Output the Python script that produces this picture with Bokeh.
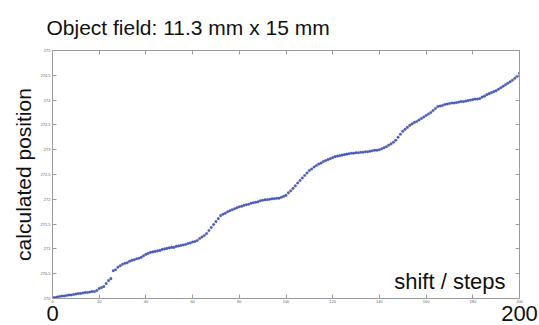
from bokeh.plotting import figure
from bokeh.models import (Range1d, LinearAxis, FixedTicker, Label, ColumnDataSource, Title,
                          CustomJSTickFormatter)
from bokeh.embed import file_html
from bokeh.resources import INLINE

# ---- data ----
steps = list(range(0, 201))
positions = [
    270.02, 270.02, 270.03, 270.04, 270.05, 270.05, 270.06, 270.07, 270.07, 270.08,
    270.09, 270.10, 270.10, 270.11, 270.12, 270.12, 270.13, 270.14, 270.14, 270.16,
    270.20, 270.22, 270.24, 270.30, 270.36, 270.40, 270.56, 270.58, 270.63, 270.66,
    270.69, 270.71, 270.72, 270.75, 270.77, 270.78, 270.80, 270.81, 270.83, 270.86,
    270.89, 270.91, 270.93, 270.94, 270.95, 270.96, 270.97, 270.99, 271.00, 271.01,
    271.02, 271.03, 271.03, 271.05, 271.06, 271.07, 271.08, 271.09, 271.11, 271.12,
    271.14, 271.15, 271.17, 271.21, 271.24, 271.27, 271.31, 271.37, 271.43, 271.49,
    271.55, 271.61, 271.67, 271.70, 271.72, 271.75, 271.77, 271.79, 271.81, 271.83,
    271.85, 271.86, 271.88, 271.89, 271.90, 271.92, 271.93, 271.94, 271.95, 271.97,
    271.98, 271.99, 271.99, 272.00, 272.01, 272.01, 272.02, 272.02, 272.04, 272.06,
    272.08, 272.13, 272.17, 272.22, 272.27, 272.33, 272.38, 272.43, 272.48, 272.53,
    272.58, 272.61, 272.65, 272.68, 272.71, 272.73, 272.76, 272.78, 272.80, 272.82,
    272.84, 272.86, 272.87, 272.88, 272.89, 272.90, 272.91, 272.92, 272.93, 272.93,
    272.94, 272.94, 272.95, 272.95, 272.96, 272.96, 272.97, 272.98, 272.99, 272.99,
    273.00, 273.02, 273.04, 273.06, 273.09, 273.12, 273.15, 273.19, 273.25, 273.31,
    273.37, 273.41, 273.45, 273.49, 273.52, 273.55, 273.57, 273.60, 273.63, 273.66,
    273.69, 273.72, 273.75, 273.79, 273.83, 273.87, 273.88, 273.89, 273.91, 273.92,
    273.93, 273.94, 273.94, 273.95, 273.96, 273.97, 273.97, 273.98, 273.99, 274.00,
    274.01, 274.02, 274.02, 274.03, 274.06, 274.08, 274.11, 274.13, 274.15, 274.17,
    274.19, 274.22, 274.25, 274.28, 274.31, 274.34, 274.37, 274.40, 274.44, 274.48,
    274.54,
]
x_ticks = [0, 20, 40, 60, 80, 100, 120, 140, 160, 180, 200]
y_ticks = [270, 270.5, 271, 271.5, 272, 272.5, 273, 273.5, 274, 274.5, 275]
x_big_ticks = [0, 200]

FONT = "Liberation Sans"
AX = "#9a9a9a"
INK = "#111111"

p = figure(width=539, height=325, output_backend="svg", toolbar_location=None,
           x_range=Range1d(0, 200), y_range=Range1d(270, 275),
           x_axis_location=None, y_axis_location=None,
           min_border_left=52, min_border_right=20, min_border_top=50, min_border_bottom=27)
p.outline_line_color = None
p.xgrid.visible = False
p.ygrid.visible = False

p.title = Title(text="Object field: 11.3 mm x 15 mm", align="left", offset=-6,
                text_font=FONT, text_font_size="21px", text_font_style="normal",
                text_color=INK, standoff=24)


def style(ax, show_labels):
    ax.axis_line_color = AX
    ax.major_tick_line_color = AX
    ax.major_tick_in = 4
    ax.major_tick_out = 0
    ax.minor_tick_line_color = None
    ax.major_label_text_font = FONT
    ax.major_label_text_font_size = "4px"
    ax.major_label_text_color = "#666666"
    ax.major_label_standoff = 2
    if not show_labels:
        ax.formatter = CustomJSTickFormatter(code="return ''")
        ax.major_label_standoff = 0


bottom = LinearAxis(ticker=FixedTicker(ticks=x_ticks))
style(bottom, True)
bottom.major_label_standoff = 1
top = LinearAxis(ticker=FixedTicker(ticks=x_ticks))
style(top, False)
left = LinearAxis(ticker=FixedTicker(ticks=y_ticks), axis_label="calculated position")
style(left, True)
left.axis_label_text_font = FONT
left.axis_label_text_font_size = "21px"
left.axis_label_text_font_style = "normal"
left.axis_label_text_color = INK
left.axis_label_standoff = 2
right = LinearAxis(ticker=FixedTicker(ticks=y_ticks))
style(right, False)

big = LinearAxis(ticker=FixedTicker(ticks=x_big_ticks))
big.axis_line_color = None
big.major_tick_line_color = None
big.minor_tick_line_color = None
big.major_label_text_font = FONT
big.major_label_text_font_size = "22px"
big.major_label_text_color = INK
big.major_label_standoff = -6

p.add_layout(bottom, "below")
p.add_layout(big, "below")
p.add_layout(top, "above")
p.add_layout(left, "left")
p.add_layout(right, "right")

src = ColumnDataSource(dict(x=steps, y=positions))
p.scatter("x", "y", source=src, size=2.6, fill_color="#3a4bb0", line_color="#3a4bb0",
          line_width=0.3, alpha=0.9)

p.add_layout(Label(x=200, y=270, x_offset=-14, y_offset=17, text="shift / steps",
                   text_font=FONT, text_font_size="22px", text_color=INK,
                   text_baseline="alphabetic", text_align="right"))

open("out.html", "w").write(file_html(p, INLINE))
